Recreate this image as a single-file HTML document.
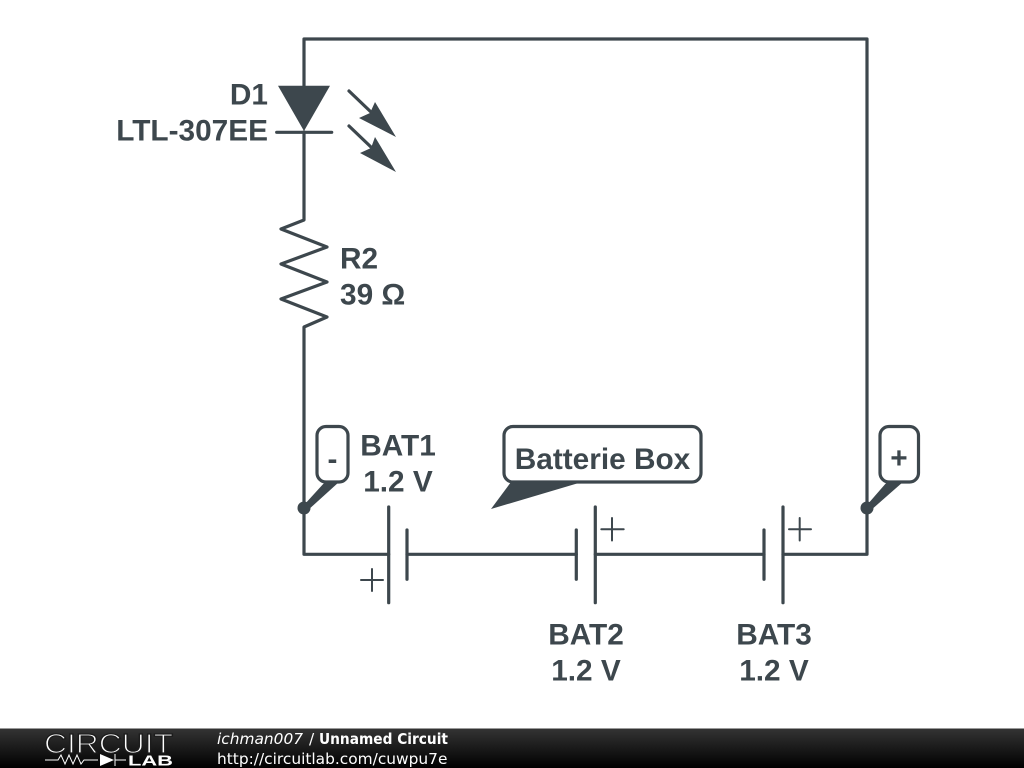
<!DOCTYPE html>
<html>
<head>
<meta charset="utf-8">
<style>
html,body{margin:0;padding:0;background:#fff;width:1024px;height:768px;overflow:hidden}
svg{display:block}
.t{font-family:"Liberation Sans",sans-serif;font-weight:700;font-size:29.8px;fill:#3d474d}
.f{font-family:"DejaVu Sans",sans-serif;font-size:15.4px;fill:#fff}
</style>
</head>
<body>
<svg width="1024" height="768" viewBox="0 0 1024 768" xmlns="http://www.w3.org/2000/svg">
<defs>
<linearGradient id="g" x1="0" y1="0" x2="0" y2="1">
<stop offset="0" stop-color="#333"/>
<stop offset="1" stop-color="#000"/>
</linearGradient>
</defs>
<rect width="1024" height="768" fill="#fff"/>
<g fill="none" stroke="#3d474d" stroke-width="3.2" stroke-linecap="round" stroke-linejoin="round">
<path d="M304 86V39H867V554.300H783"/>
<path d="M304 132V220L281 229L327 247L281 264L327 282L281 299L327 317L304 327V554.300H388.700"/>
<path d="M407 554.300H576.300M595.300 554.300H764"/>
<path d="M276.700 132.300H331.700"/>
<path d="M388.700 507V602.700M407 530V579.300M576.300 530V579.300M595.300 507V602.700M764 530V579.300M783 507V602.700"/>
<path d="M349 91L372 113M349 126L372 148"/>
<path stroke-width="2" d="M361 580H383M372 569V591M601.300 529.300H623.700M612 518V540.500M789 529.300H811M799.700 518V540.500"/>
<rect x="317" y="426.500" width="31" height="55.500" rx="9"/>
<rect x="880" y="426.500" width="38.500" height="55.500" rx="9"/>
<rect x="504" y="426.500" width="197" height="55.500" rx="9"/>
</g>
<g fill="#3d474d">
<path d="M278 85.700H330L304 131Z"/>
<path d="M375 102L396 137L359 118L370 113Z"/>
<path d="M375 137L396 172L360 153L371 148Z"/>
<circle cx="304" cy="508" r="6.500"/>
<circle cx="867" cy="508" r="6.500"/>
<path d="M304 505L325 482H339L307 511Z"/>
<path d="M867 505L887 482H903L870 511Z"/>
<path d="M491 509L511 482H582Z"/>
</g>
<g>
<text x="268" y="104.700" text-anchor="end" class="t">D1</text>
<text x="268" y="140.500" text-anchor="end" class="t">LTL-307EE</text>
<text x="340" y="268.700" class="t">R2</text>
<text x="340" y="304.500" class="t">39 Ω</text>
<text x="398" y="455.700" text-anchor="middle" class="t">BAT1</text>
<text x="398" y="491.500" text-anchor="middle" class="t">1.2 V</text>
<text x="586" y="644.700" text-anchor="middle" class="t">BAT2</text>
<text x="586" y="680.500" text-anchor="middle" class="t">1.2 V</text>
<text x="774" y="644.700" text-anchor="middle" class="t">BAT3</text>
<text x="774" y="680.500" text-anchor="middle" class="t">1.2 V</text>
<text x="602.500" y="469" text-anchor="middle" class="t">Batterie Box</text>
<text x="332.500" y="469" text-anchor="middle" class="t">-</text>
<text x="899" y="468" text-anchor="middle" class="t">+</text>
</g>
<rect y="728" width="1024" height="1" fill="#999"/>
<rect y="729" width="1024" height="39" fill="url(#g)"/>
<text x="44" y="753" font-family="Liberation Sans,sans-serif" font-size="28" fill="#fff" stroke="#1c1c1c" stroke-width="1.300" textLength="129" lengthAdjust="spacingAndGlyphs">CIRCUIT</text>
<text x="128" y="765.500" font-family="Liberation Sans,sans-serif" font-weight="700" font-size="14.500" fill="#fff" textLength="45" lengthAdjust="spacingAndGlyphs">LAB</text>
<g fill="none" stroke="#fff" stroke-width="1">
<path d="M45 760H58L61 755L65 764L69 755L73 764L77 755L81 764L84 760H98"/>
<path d="M115 760H126M115 754V766"/>
</g>
<path d="M100 754L114 760L100 766Z" fill="#fff"/>
<text x="217" y="744" class="f" font-style="italic">ichman007</text>
<text x="309" y="744" class="f">/</text>
<text x="319" y="744" class="f" font-weight="700" textLength="129" lengthAdjust="spacingAndGlyphs">Unnamed Circuit</text>
<text x="217" y="764" class="f">http://circuitlab.com/cuwpu7e</text>
</svg>
</body>
</html>
